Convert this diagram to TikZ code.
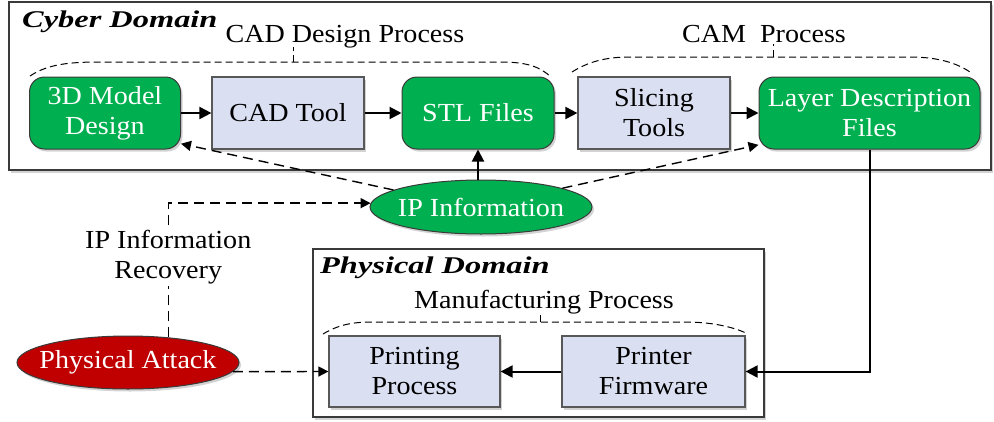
\documentclass[tikz,border=0pt]{standalone}
\usepackage{fontspec}
\setmainfont{Liberation Serif}[FakeStretch=1.08]
\newfontfamily\domainfont{Liberation Serif}[FakeStretch=1.35]
\usetikzlibrary{arrows.meta,shapes.geometric,shadows,calc}

\definecolor{boxgreen}{HTML}{00B050}
\definecolor{boxblue}{HTML}{DAE0F2}
\definecolor{attackred}{HTML}{C00000}
\definecolor{edgegray}{HTML}{3A3A3A}

\newcommand{\ovaltext}[1]{\makebox[0pt]{#1}}

\tikzset{
  softshadow/.style={drop shadow={shadow xshift=2pt, shadow yshift=-2.5pt, opacity=0.35}},
  base/.style={font=\fontsize{26}{30}\selectfont, align=center, inner sep=0pt,
    line width=1pt, draw=edgegray, softshadow},
  greenbox/.style={base, rectangle, rounded corners=15pt, fill=boxgreen, text=white,
    minimum height=72pt},
  toolbox/.style={base, rectangle, fill=boxblue, minimum height=72pt, line width=1.2pt,
    draw=edgegray!85},
  oval/.style={base, ellipse, text=white},
  domainframe/.style={draw=edgegray, line width=1.8pt, fill=white, softshadow, inner sep=0pt},
  domaintitle/.style={anchor=base west, inner sep=0pt,
    font=\domainfont\bfseries\itshape\fontsize{24}{28}\selectfont},
  stagetitle/.style={anchor=base, inner sep=0pt, font=\fontsize{26}{30}\selectfont},
  arr/.style={line width=2pt, -{Triangle[length=12pt,width=12pt]}},
  dasharr/.style={line width=1.4pt, dash pattern=on 10pt off 6pt,
    -{Triangle[length=10pt,width=10pt]}},
  brace/.style={line width=1pt, dash pattern=on 7pt off 4pt},
}

\begin{document}
\begin{tikzpicture}[x=1pt, y=-1pt]
\useasboundingbox (0,0) rectangle (994,421);

% domain frames
\node[domainframe, minimum width=982pt, minimum height=168pt] (cyber) at (500,86) {};
\node[domainframe, minimum width=451pt, minimum height=168pt] (physical) at (538.5,333) {};
\node[domaintitle] (cybertitle) at (22,27) {Cyber Domain};
\node[domaintitle] (physicaltitle) at (320,273) {Physical Domain};

% stage labels with their dashed brackets
\node[stagetitle] (cadlabel) at (345,42) {CAD Design Process};
\node[stagetitle] (camlabel) at (764,42) {CAM\ \ Process};
\node[stagetitle] (mfglabel) at (544,308) {Manufacturing Process};

\draw[brace] (30,76) .. controls (48,64) and (70,62) .. (100,62) -- (500,62)
  .. controls (528,62) and (540,67) .. (551,77);
\draw[brace] (293,62) -- (293,47);
\draw[brace] (572,72) .. controls (588,62) and (605,57) .. (630,57) -- (910,57)
  .. controls (940,57) and (958,64) .. (970,72);
\draw[brace] (773,57) -- (773,44);
\draw[brace] (323,334) .. controls (338,325) and (352,322) .. (372,322) -- (685,322)
  .. controls (712,322) and (734,327) .. (748,334);
\draw[brace] (540,322) -- (540,312);

% cyber domain chain
\node[greenbox, minimum width=151pt] (model) at (105,113) {3D Model\\Design};
\node[toolbox, minimum width=152pt] (cad) at (288,113) {CAD Tool};
\node[greenbox, minimum width=152pt] (stl) at (478,113) {STL Files};
\node[toolbox, minimum width=152pt] (slicing) at (654,113) {Slicing\\Tools};
\node[greenbox, minimum width=221pt] (layer) at (869.5,113) {Layer Description\\Files};

% IP information and attack
\node[oval, fill=boxgreen, minimum width=222pt, minimum height=54pt] (ip) at (481,207)
  {\ovaltext{IP Information}};
\node[oval, fill=attackred, minimum width=222pt, minimum height=53pt] (attack) at (128,362.5)
  {\ovaltext{Physical Attack}};

% physical domain chain
\node[toolbox, minimum width=171pt, minimum height=71pt] (printing) at (414.5,371.5) {Printing\\Process};
\node[toolbox, minimum width=183pt, minimum height=71pt] (firmware) at (653.5,371.5) {Printer\\Firmware};

% connectors
\draw[arr] (model) -- (cad);
\draw[arr] (cad) -- (stl);
\draw[arr] (stl) -- (slicing);
\draw[arr] (slicing) -- (layer);
\draw[arr] (ip.north -| stl.south) -- (stl.south);
\draw[dasharr] (ip.169) -- (model.-22);
\draw[dasharr] (ip.13) -- (layer.-164);
\draw[arr] (layer.south) |- (firmware.east);
\draw[arr] (firmware) -- (printing);
\draw[dasharr] (attack.-5) -- (printing.west);
\draw[dasharr] (attack.32) |- node[pos=0.3, fill=white, inner sep=2pt, align=center,
  font=\fontsize{26}{30}\selectfont] (recovery) {IP Information\\Recovery} (ip.178);
\end{tikzpicture}
\end{document}
